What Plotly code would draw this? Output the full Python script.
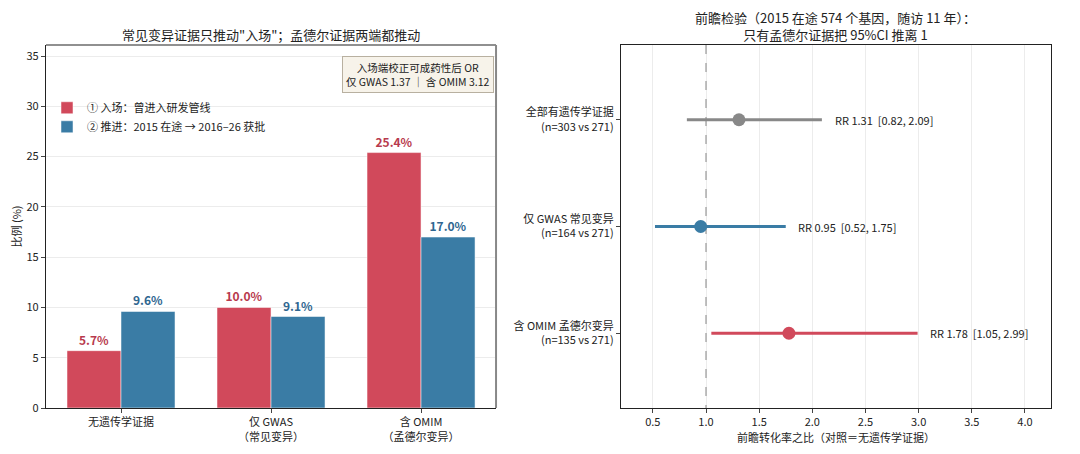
import plotly.graph_objects as go

FONT = "Noto Sans CJK SC, Noto Sans, sans-serif"

# Left panel data
categories = ["无遗传学证据", "仅 GWAS<br>（常见变异）", "含 OMIM<br>（孟德尔变异）"]
entry_pct = [5.7, 10.0, 25.4]
advance_pct = [9.6, 9.1, 17.0]
series_names = ["① 入场：曾进入研发管线", "② 推进：2015 在途 → 2016–26 获批"]

# Right panel data
rows = ["全部有遗传学证据<br>(n=303 vs 271)", "仅 GWAS 常见变异<br>(n=164 vs 271)", "含 OMIM 孟德尔变异<br>(n=135 vs 271)"]
rr = [1.31, 0.95, 1.78]
ci_lo = [0.82, 0.52, 1.05]
ci_hi = [2.09, 1.75, 2.99]
row_colors = ["#888888", "#3a7ca5", "#d1495b"]
null_rr = 1.0

RED = "#d1495b"
BLUE = "#3a7ca5"
RED_TXT = "#b83a4d"
BLUE_TXT = "#2f6690"

fig = go.Figure()
xidx = [0, 1, 2]
fig.add_trace(go.Bar(x=xidx, y=entry_pct, name=series_names[0], marker=dict(color=RED, line=dict(color="white", width=0.5)),
                     text=[f"{v:.1f}%" for v in entry_pct], textposition="outside",
                     textfont=dict(color=RED_TXT, size=12, family=FONT, weight="bold"), cliponaxis=False,
                     xaxis="x", yaxis="y"))
fig.add_trace(go.Bar(x=xidx, y=advance_pct, name=series_names[1], marker=dict(color=BLUE, line=dict(color="white", width=0.5)),
                     text=[f"{v:.1f}%" for v in advance_pct], textposition="outside",
                     textfont=dict(color=BLUE_TXT, size=12, family=FONT, weight="bold"), cliponaxis=False,
                     xaxis="x", yaxis="y"))

# reference line at RR = 1 (drawn under the points)
fig.add_trace(go.Scatter(x=[null_rr, null_rr], y=[-0.7, 2.7], mode="lines",
                         line=dict(color="#999", width=1.2, dash="dash"), hoverinfo="skip",
                         showlegend=False, xaxis="x2", yaxis="y2"))

for i in range(3):
    fig.add_trace(go.Scatter(x=[rr[i]], y=[i], mode="markers",
                             marker=dict(color=row_colors[i], size=13),
                             error_x=dict(type="data", symmetric=False, array=[ci_hi[i] - rr[i]],
                                          arrayminus=[rr[i] - ci_lo[i]], color=row_colors[i], thickness=3, width=0),
                             showlegend=False, xaxis="x2", yaxis="y2"))
    fig.add_annotation(x=ci_hi[i] + 0.1, y=i, xref="x2", yref="y2", xanchor="left", yanchor="middle",
                       text=f"RR {rr[i]:.2f}  [{ci_lo[i]:.2f}, {ci_hi[i]:.2f}]", showarrow=False,
                       font=dict(size=11, color="#222", family=FONT))

dx0, dx1 = 0.4478, 0.5721
fig.update_layout(
    width=1072, height=446,
    margin=dict(l=38, r=29, t=37, b=46, autoexpand=False),
    paper_bgcolor="white", plot_bgcolor="white",
    font=dict(family=FONT, size=11, color="#222"),
    barmode="group", bargap=0.28, bargroupgap=0,
    xaxis=dict(domain=[0, dx0], range=[-0.5, 2.5], tickvals=xidx, ticktext=categories, automargin=False,
               showline=True, linecolor="#222", linewidth=1.2, mirror=False, ticks="outside", ticklen=4,
               showgrid=False, zeroline=False, tickfont=dict(size=11)),
    yaxis=dict(domain=[0, 1], range=[0, 36.1], dtick=5, showline=True, linecolor="#222", linewidth=1.2,
               ticks="outside", ticklen=4, gridcolor="#ececec", zeroline=False, automargin=False,
               title=dict(text="比例 (%)", font=dict(size=11), standoff=8), tickfont=dict(size=11)),
    xaxis2=dict(domain=[dx1, 1], range=[0.2, 4.245], dtick=0.5, tick0=0.5, tickformat=".1f",
                showline=True, linecolor="#222", linewidth=1.2, mirror=True, ticks="outside", ticklen=4,
                gridcolor="#ececec", zeroline=False, anchor="y2", automargin=False,
                title=dict(text="前瞻转化率之比（对照＝无遗传学证据）", font=dict(size=11), standoff=6),
                tickfont=dict(size=11)),
    yaxis2=dict(domain=[0, 1], range=[2.7, -0.7], tickvals=[0, 1, 2], ticktext=rows, automargin=False,
                showline=True, linecolor="#222", linewidth=1.2, mirror=True, ticks="outside", ticklen=4,
                showgrid=False, zeroline=False, anchor="x2", tickfont=dict(size=11)),
    legend=dict(x=0.001, y=0.867, xanchor="left", yanchor="top", bgcolor="rgba(0,0,0,0)",
                font=dict(size=11), tracegroupgap=0, itemwidth=30),
    showlegend=True,
)

# top spine and gray right spine for left panel
fig.add_shape(type="line", xref="x domain", yref="y domain", x0=0, x1=1, y0=1, y1=1,
              line=dict(color="#222", width=1.2))
fig.add_shape(type="line", xref="x domain", yref="y domain", x0=1, x1=1, y0=0, y1=1,
              line=dict(color="#888", width=2))

# titles
fig.add_annotation(x=dx0 / 2, y=1.0, xref="paper", yref="paper", xanchor="center", yanchor="bottom", yshift=0,
                   text="常见变异证据只推动\"入场\"；孟德尔证据两端都推动", showarrow=False, borderpad=0,
                   font=dict(size=13, color="#222"))
fig.add_annotation(x=(dx1 + 1) / 2, y=1.0, xref="paper", yref="paper", xanchor="center", yanchor="bottom", yshift=0,
                   text="前瞻检验（2015 在途 574 个基因，随访 11 年）：<br>只有孟德尔证据把 95%CI 推离 1", showarrow=False,
                   borderpad=0, font=dict(size=13, color="#222"))
# OR box
fig.add_annotation(x=dx0, y=0.97, xref="paper", yref="paper", xanchor="right", yanchor="top", xshift=-2,
                   text="入场端校正可成药性后 OR<br>仅 GWAS 1.37 ｜ 含 OMIM 3.12", showarrow=False, align="center",
                   font=dict(size=10.5, color="#222"), bgcolor="#f7f3ea", bordercolor="#b8b0a0", borderwidth=1,
                   borderpad=3)

fig.write_html("out.html")
